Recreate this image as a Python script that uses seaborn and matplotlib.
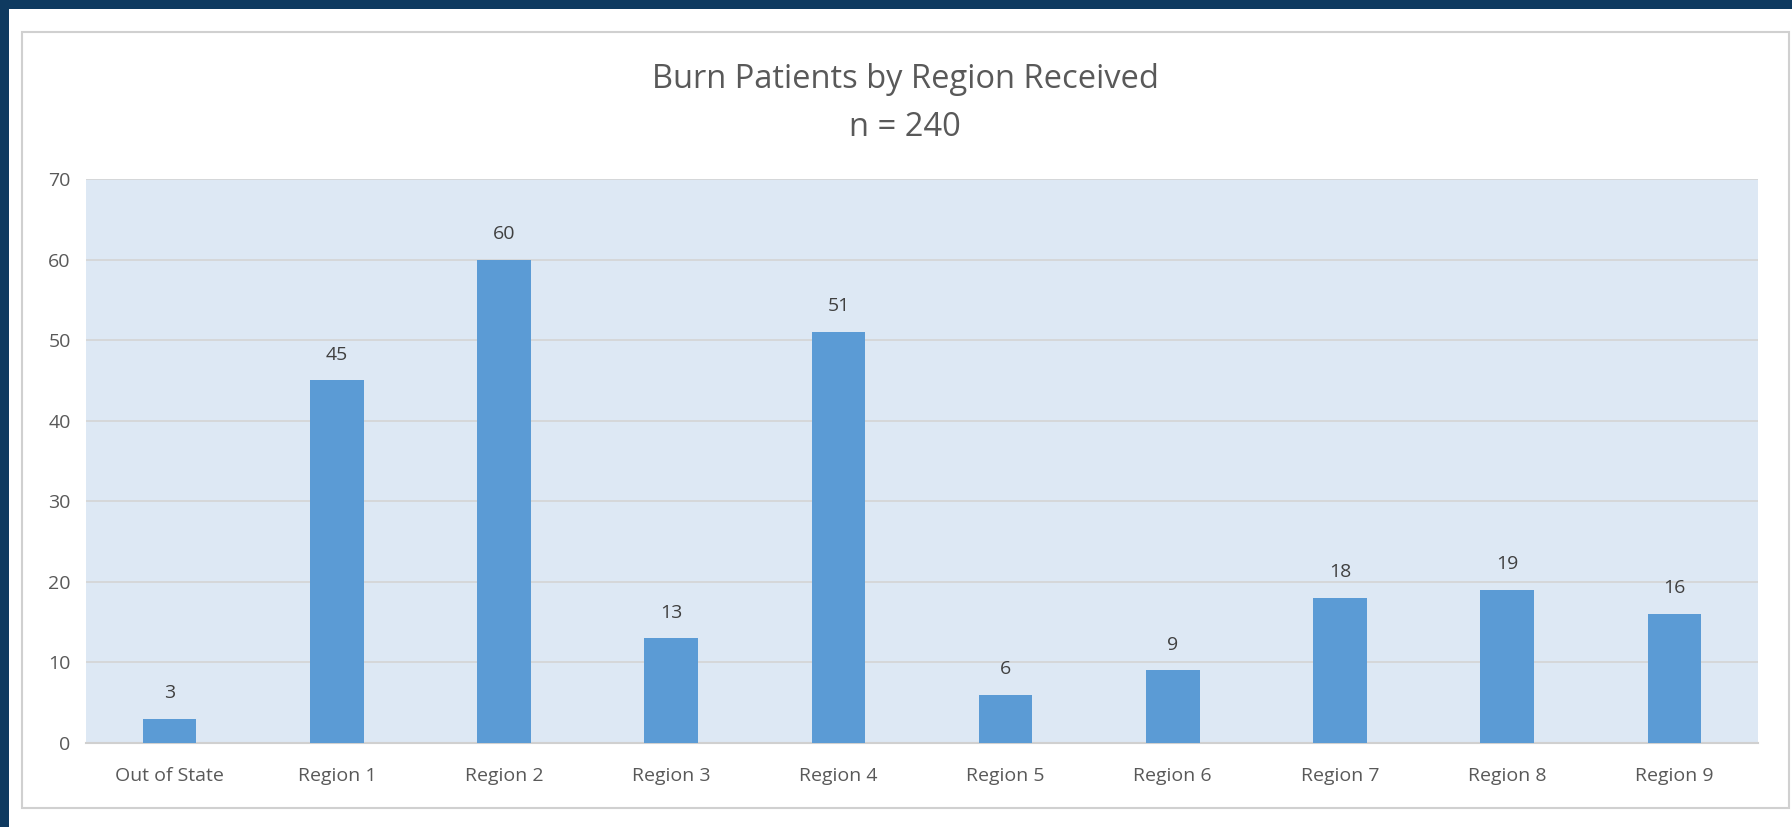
import matplotlib
matplotlib.use("Agg")
import matplotlib.pyplot as plt
import seaborn as sns
import pandas as pd
from matplotlib.patches import Rectangle

categories = ["Out of State", "Region 1", "Region 2", "Region 3", "Region 4",
              "Region 5", "Region 6", "Region 7", "Region 8", "Region 9"]
patients = [3, 45, 60, 13, 51, 6, 9, 18, 19, 16]
title_line1 = "Burn Patients by Region Received"
title_line2 = "n = 240"
y_ticks = [0, 10, 20, 30, 40, 50, 60, 70]

df = pd.DataFrame({"Region": categories, "Patients": patients})

sns.set_theme(style="white")
plt.rcParams["font.family"] = ["Open Sans", "DejaVu Sans"]

W, H = 1792, 827
fig = plt.figure(figsize=(W / 100, H / 100), dpi=100)
fig.patch.set_facecolor("white")

def fx(px):
    return px / W

def fy(py):
    return 1 - py / H

# navy frame strips (top and left)
fig.patches.append(Rectangle((0, fy(9)), 1, 9 / H, transform=fig.transFigure,
                             facecolor="#0f3a60", edgecolor="none", zorder=0))
fig.patches.append(Rectangle((0, 0), 9 / W, 1, transform=fig.transFigure,
                             facecolor="#0f3a60", edgecolor="none", zorder=0))
# chart panel border
fig.patches.append(Rectangle((fx(22), fy(808)), (1789 - 22) / W, (808 - 32) / H,
                             transform=fig.transFigure, facecolor="none",
                             edgecolor="#d0d0d0", linewidth=1.5, zorder=0))

ax = fig.add_axes([fx(86), fy(743), (1758 - 86) / W, (743 - 179) / H])
ax.set_zorder(2)
ax.set_facecolor("#dde8f4")

sns.barplot(data=df, x="Region", y="Patients", color="#5b9bd5", width=0.32,
            saturation=1, linewidth=0, edgecolor="none", ax=ax, zorder=3)

ax.set_ylim(0, 70)
ax.set_yticks(y_ticks)
ax.yaxis.grid(True, color="#d4d4d4", linewidth=1.2, zorder=1)
ax.set_axisbelow(True)
for s in ["top", "right", "left"]:
    ax.spines[s].set_visible(False)
ax.spines["bottom"].set_color("#d0d0d0")
ax.spines["bottom"].set_linewidth(1.5)
ax.set_xlabel("")
ax.set_ylabel("")
ax.tick_params(axis="both", length=0, labelsize=14, colors="#595959")
ax.tick_params(axis="x", pad=17)
ax.tick_params(axis="y", pad=11)

for c in ax.containers:
    ax.bar_label(c, labels=[str(v) for v in patients], padding=12,
                 fontsize=14, color="#404040")

fig.text(fx(905), fy(79), title_line1, ha="center", va="center",
         fontsize=23.5, color="#595959")
fig.text(fx(905), fy(127), title_line2, ha="center", va="center",
         fontsize=23.5, color="#595959")

fig.savefig("out.png", dpi=100, facecolor="white")
